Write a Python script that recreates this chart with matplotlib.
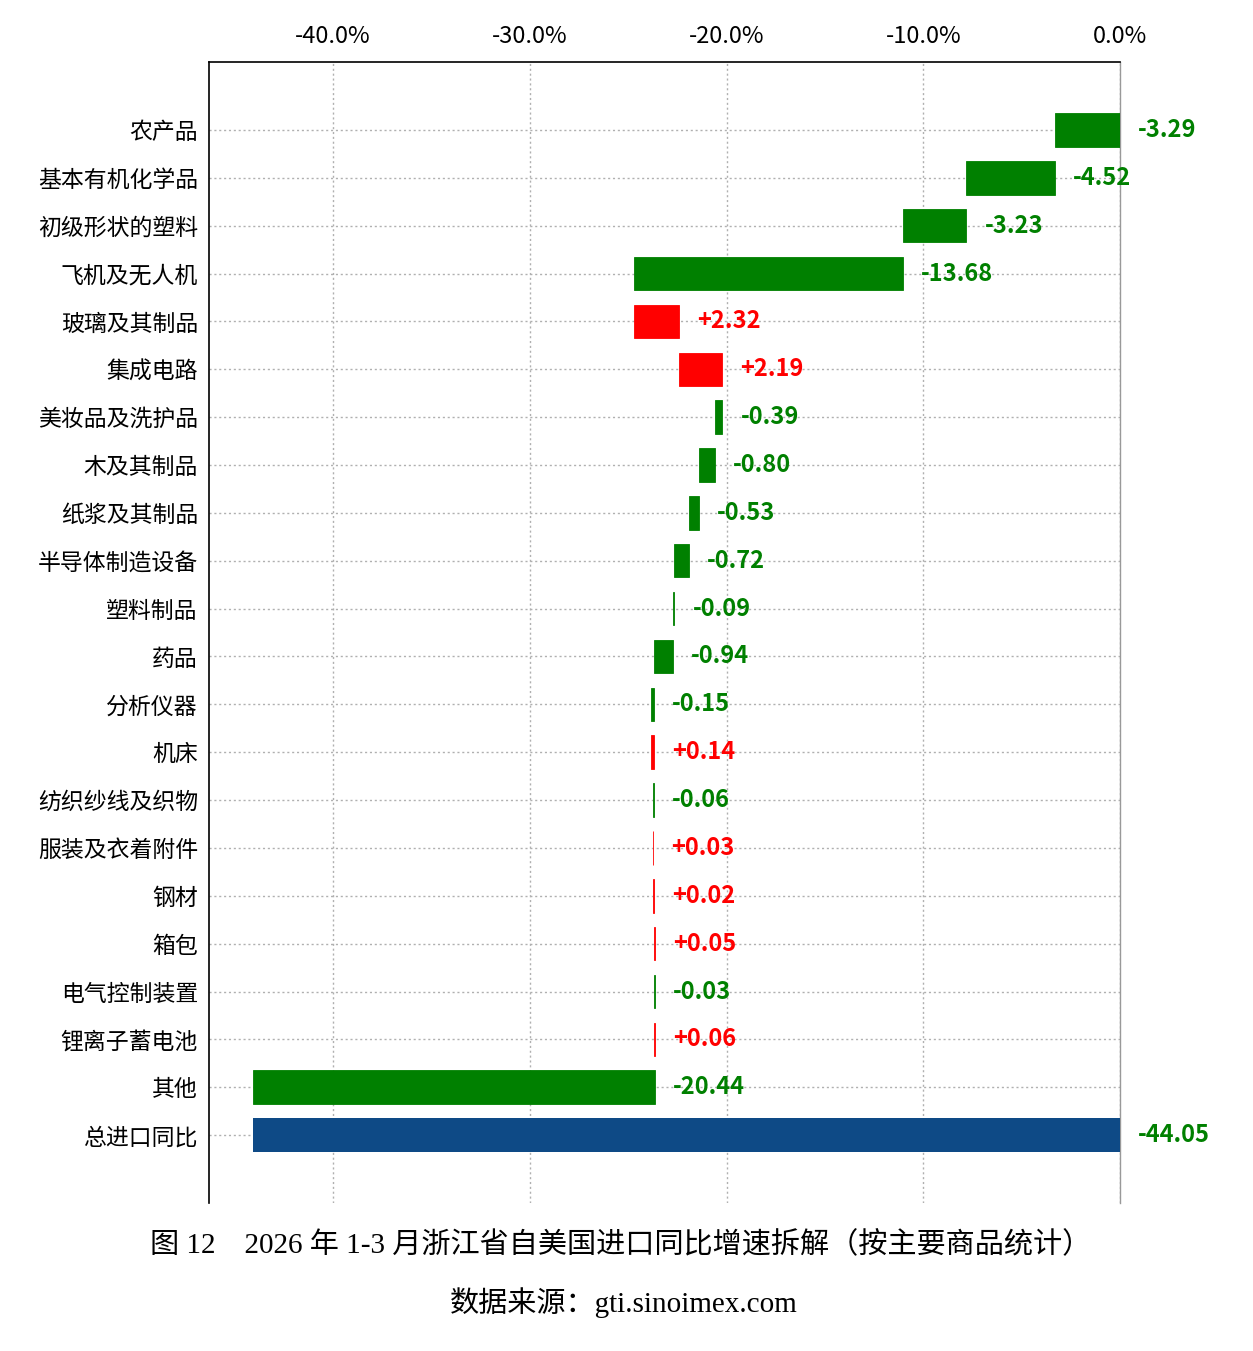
import matplotlib
matplotlib.use("Agg")
import matplotlib.pyplot as plt
import numpy as np

plt.rcParams['font.family'] = ['Noto Sans CJK SC', 'DejaVu Sans']

categories = ["农产品", "基本有机化学品", "初级形状的塑料", "飞机及无人机", "玻璃及其制品",
              "集成电路", "美妆品及洗护品", "木及其制品", "纸浆及其制品", "半导体制造设备",
              "塑料制品", "药品", "分析仪器", "机床", "纺织纱线及织物", "服装及衣着附件",
              "钢材", "箱包", "电气控制装置", "锂离子蓄电池", "其他"]
values = [-3.29, -4.52, -3.23, -13.68, 2.32, 2.19, -0.39, -0.80, -0.53, -0.72,
          -0.09, -0.94, -0.15, 0.14, -0.06, 0.03, 0.02, 0.05, -0.03, 0.06, -20.44]
total_label = "总进口同比"
total_value = -44.05
xticks = [-40, -30, -20, -10, 0]
xtick_labels = ["-40.0%", "-30.0%", "-20.0%", "-10.0%", "0.0%"]

GREEN = "#008000"
RED = "#FF0000"
NAVY = "#0E4A86"

fig = plt.figure(figsize=(12.53, 13.51), dpi=100)
ax = fig.add_axes([0.1668, 0.1095, 0.8939 - 0.1668, 0.9541 - 0.1095])

n = len(categories) + 1
ypos = np.arange(n)
cum = 0.0
labels_all = categories + [total_label]
for i, v in enumerate(values):
    start = cum
    cum = cum + v
    left = min(start, cum)
    color = GREEN if v < 0 else RED
    ax.barh(i, abs(v), left=left, height=0.7, color=color, edgecolor=color,
            linewidth=0.6, zorder=3)
    right = max(start, cum)
    ax.annotate(f"{v:+.2f}", xy=(right, i), xytext=(13, 0), textcoords="offset points",
                ha="left", va="center", fontsize=17, fontweight="bold", color=color, zorder=4)

ax.barh(n - 1, abs(total_value), left=min(0, total_value), height=0.7, color=NAVY, zorder=3)
ax.annotate(f"{total_value:.2f}", xy=(max(0, total_value), n - 1), xytext=(13, 0),
            textcoords="offset points", ha="left", va="center", fontsize=17,
            fontweight="bold", color=GREEN, zorder=4)

ax.set_xlim(-46.3, 0)
ax.set_ylim(n - 1 + 1.42, -1.42)
ax.set_yticks(ypos)
ax.set_yticklabels(labels_all, fontsize=16.5)
ax.xaxis.tick_top()
ax.set_xticks(xticks)
ax.set_xticklabels(xtick_labels, fontsize=17)
ax.tick_params(axis="x", length=0, pad=10)
ax.tick_params(axis="y", length=0, pad=8)

ax.grid(True, axis="both", linestyle=(0, (1.5, 2)), color="#b0b0b0", linewidth=1, zorder=0)
ax.set_axisbelow(True)

ax.spines["bottom"].set_visible(False)
ax.spines["right"].set_color("#999999")
ax.spines["right"].set_linewidth(1)
ax.spines["left"].set_color("black")
ax.spines["left"].set_linewidth(1.2)
ax.spines["top"].set_color("black")
ax.spines["top"].set_linewidth(1.2)

serif = ['Liberation Serif', 'Noto Sans CJK SC']
fig.text(0.495, 0.0785, "图 12    2026 年 1-3 月浙江省自美国进口同比增速拆解（按主要商品统计）",
         ha="center", va="center", fontsize=21, family=serif)
fig.text(0.498, 0.0355, "数据来源：gti.sinoimex.com", ha="center", va="center",
         fontsize=21, family=serif)

fig.savefig("out.png", dpi=100)
